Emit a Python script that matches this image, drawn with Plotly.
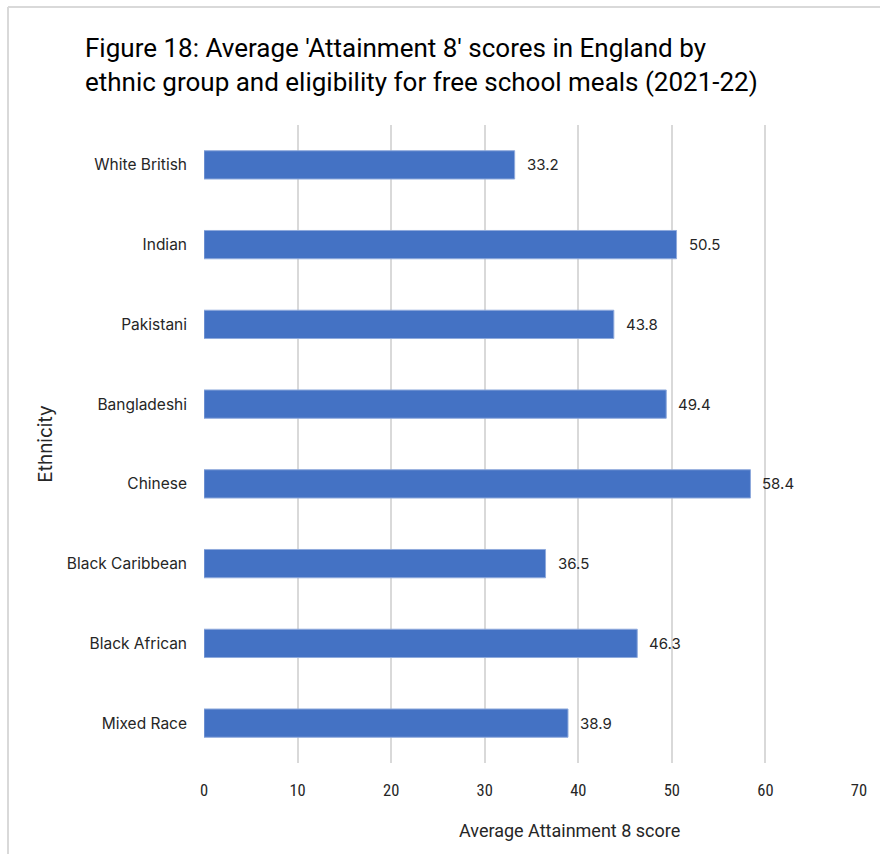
import plotly.graph_objects as go

categories = ["White British", "Indian", "Pakistani", "Bangladeshi", "Chinese",
              "Black Caribbean", "Black African", "Mixed Race"]
scores = [33.2, 50.5, 43.8, 49.4, 58.4, 36.5, 46.3, 38.9]
x_ticks = [0, 10, 20, 30, 40, 50, 60, 70]

title_text = ("Figure 18: Average 'Attainment 8' scores in England by<br>"
              "ethnic group and eligibility for free school meals (2021-22)")

W, H = 880, 854
L, R, T, B = 204, 21, 125, 91
pw, ph = W - L - R, H - T - B

narrow = "Roboto Condensed, Liberation Sans Narrow, Roboto, sans-serif"
regular = "Inter, Roboto, Open Sans, sans-serif"
title_font = "Roboto, sans-serif"

fig = go.Figure(go.Bar(
    y=categories, x=scores, orientation="h",
    marker=dict(color="#4472C4", line=dict(color="#8faadc", width=1)),
    hoverinfo="x+y",
))

annotations = [dict(x=v, y=c, xref="x", yref="y", text=f"{v:.1f}",
                    xanchor="left", yanchor="middle", xshift=10, showarrow=False,
                    font=dict(family=regular, size=15, color="#262626"))
               for c, v in zip(categories, scores)]
annotations.append(dict(text="Average Attainment 8 score", xref="paper", yref="paper",
                        x=(569 - L) / pw, y=-(830 - (T + ph)) / ph,
                        xanchor="center", yanchor="middle", showarrow=False,
                        font=dict(family=title_font, size=18, color="#262626")))

fig.update_layout(
    width=W, height=H,
    margin=dict(l=L, r=R, t=T, b=B),
    paper_bgcolor="white", plot_bgcolor="white",
    showlegend=False,
    bargap=0.645,
    title=dict(text=title_text, xref="container", yref="container",
               x=85 / W, xanchor="left", y=1 - 57 / H, yanchor="top",
               font=dict(family=title_font, size=26, color="#000000")),
    xaxis=dict(range=[0, 70], tickvals=x_ticks, showgrid=True,
               gridcolor="#d9d9d9", gridwidth=1.5, zeroline=False,
               showline=False, ticks="", ticklabelstandoff=15,
               tickfont=dict(family=narrow, size=16.5, color="#262626")),
    yaxis=dict(autorange="reversed", showgrid=False, showline=False,
               ticks="", ticklabelstandoff=16,
               tickfont=dict(family=regular, size=15.5, color="#262626"),
               title=dict(text="Ethnicity", standoff=9,
                          font=dict(family=regular, size=19, color="#262626"))),
    annotations=annotations,
    shapes=[
        dict(type="line", xref="paper", yref="paper",
             x0=(8 - L) / pw, x1=(W + 10 - L) / pw,
             y0=1 + (T - 7) / ph, y1=1 + (T - 7) / ph,
             line=dict(color="#d9d9d9", width=2)),
        dict(type="line", xref="paper", yref="paper",
             x0=(8 - L) / pw, x1=(8 - L) / pw,
             y0=1 + (T - 7) / ph, y1=-(H + 10 - T - ph) / ph,
             line=dict(color="#d9d9d9", width=2)),
    ],
)

fig.write_html("out.html")
